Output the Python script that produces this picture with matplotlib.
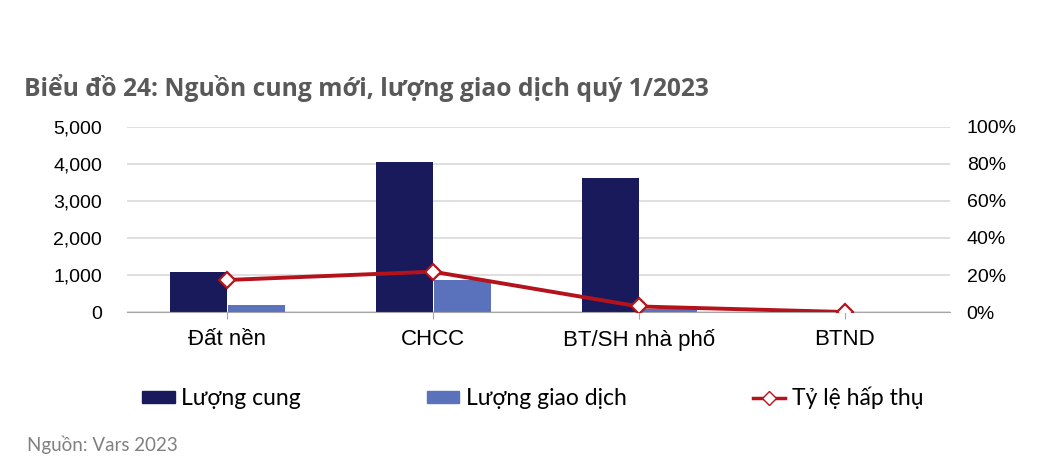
import numpy as np
import matplotlib.pyplot as plt
from matplotlib.lines import Line2D
from matplotlib.patches import Patch

categories = ['Đất nền', 'CHCC', 'BT/SH nhà phố', 'BTND']
supply = [1080, 4060, 3620, 0]
transactions = [190, 870, 90, 0]
absorption = [17.3, 21.8, 3.0, 0.0]

navy = '#181a5c'
light = '#5a72bc'
red = '#b5121b'

plt.rcParams['font.family'] = ['Liberation Sans', 'DejaVu Sans']

fig = plt.figure(figsize=(10.41, 4.65), dpi=100)
ax = fig.add_axes([0.122, 0.329, 0.7906, 0.398])
x = np.arange(len(categories))
w = 0.277
ax.bar(x - w / 2, supply, w, color=navy, zorder=3)
ax.bar(x + w / 2 + 0.005, transactions, w, color=light, zorder=3)
ax.set_xlim(-0.485, 3.51)
ax.set_ylim(0, 5000)
ax.set_yticks(range(0, 5001, 1000))
ax.set_yticklabels([f'{v:,}' for v in range(0, 5001, 1000)], fontsize=14)
ax.grid(axis='y', color='#d9d9d9', lw=1.2, zorder=0)
for s in ['top', 'right', 'left']:
    ax.spines[s].set_visible(False)
ax.spines['bottom'].set_color('#a6a6a6')
ax.spines['bottom'].set_zorder(4)
ax.tick_params(axis='y', length=0, pad=18)
ax.set_xticks(x)
ax.set_xticklabels(categories, fontsize=16)
ax.tick_params(axis='x', length=5, color='#a6a6a6', pad=7)

ax2 = ax.twinx()
ax2.plot(x, absorption, color=red, lw=2.8, marker='D', ms=8, mfc='white',
         mec=red, mew=1.6, zorder=5)
ax2.set_ylim(0, 100)
ax2.set_yticks(range(0, 101, 20))
ax2.set_yticklabels([f'{v}%' for v in range(0, 101, 20)], fontsize=14)
ax2.tick_params(axis='y', length=0, pad=12)
for s in ax2.spines.values():
    s.set_visible(False)

fig.text(0.023, 0.81, 'Biểu đồ 24: Nguồn cung mới, lượng giao dịch quý 1/2023',
         fontsize=17.7, fontweight='bold', color='#595959', va='center',
         family=['Open Sans', 'DejaVu Sans'])

handles = [Patch(color=navy), Patch(color=light),
           Line2D([], [], color=red, lw=2.5, marker='D', ms=7, mfc='white', mec=red)]
labels = ['Lượng cung', 'Lượng giao dịch', 'Tỷ lệ hấp thụ']
fig.legend(handles, labels, loc='center', bbox_to_anchor=(0.512, 0.144), ncol=3,
           frameon=False, columnspacing=5.5, handlelength=1.4,
           handleheight=0.4, handletextpad=0.3,
           prop={'family': ['Lato', 'DejaVu Sans'], 'size': 16.5})

fig.text(0.026, 0.043, 'Nguồn: Vars 2023', fontsize=13.5, color='#808080',
         va='center', family=['Lato', 'DejaVu Sans'])

fig.savefig('out.png', dpi=100)
